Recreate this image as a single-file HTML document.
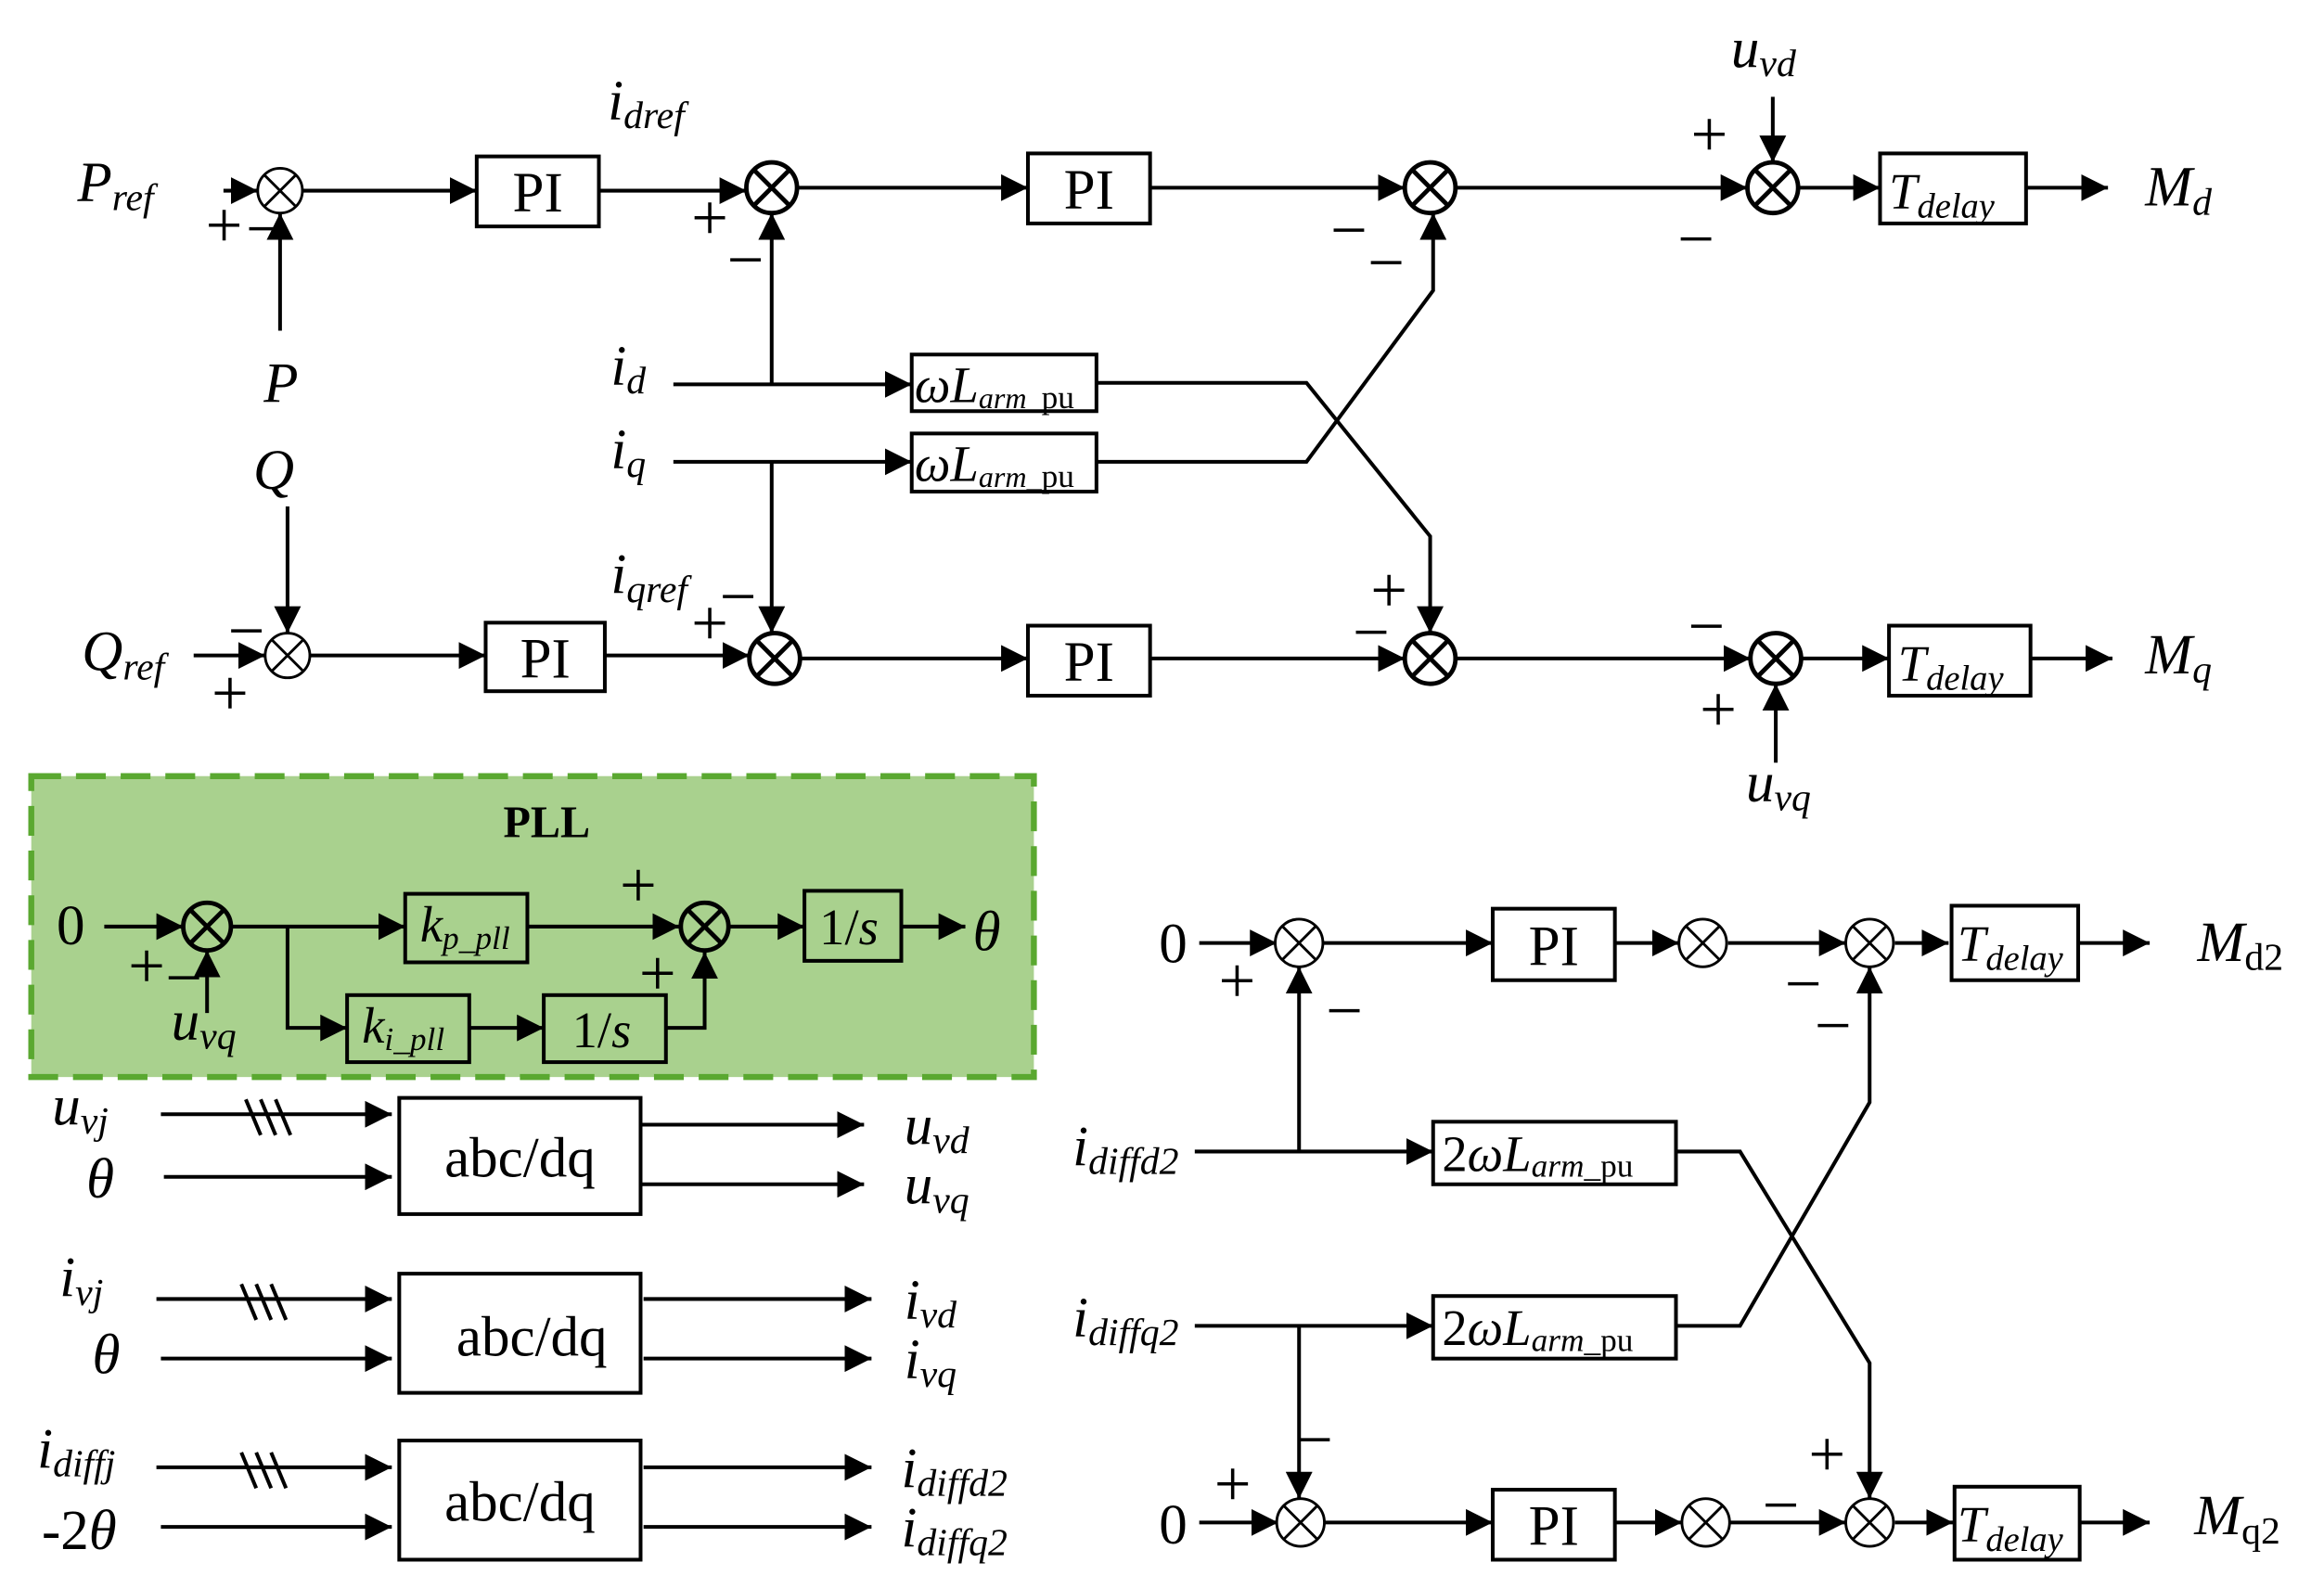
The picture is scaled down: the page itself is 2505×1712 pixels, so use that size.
<!DOCTYPE html>
<html><head><meta charset="utf-8"><style>
html,body{margin:0;padding:0;background:#fff}
svg{display:block}
text{font-family:"Liberation Serif",serif;fill:#000}
.i{font-style:italic}
.n{font-style:normal}
</style></head><body>
<svg width="2505" height="1712" viewBox="0 0 1560 1066" preserveAspectRatio="none" xmlns="http://www.w3.org/2000/svg">
<defs>
<marker id="b" viewBox="0 0 10 10" refX="10" refY="5" markerWidth="18" markerHeight="18" markerUnits="userSpaceOnUse" orient="auto">
<path d="M0,0 L10,5 L0,10 z" fill="#000"/></marker>
</defs>
<g stroke="#000" stroke-width="2.5" fill="none">
<rect x="21" y="521" width="673" height="202" fill="#a9d18e" stroke="#5aa830" stroke-width="4" stroke-dasharray="20,10"/>
</g>
<g stroke="#000" stroke-width="2.5" fill="none" marker-end="url(#b)">
<path d="M150,128 H173"/><path d="M188,222 V143"/><path d="M203,128 H320"/><path d="M402,128 H501"/>
<path d="M535,126 H690"/><path d="M772,126 H943"/><path d="M977,126 H1173"/><path d="M1190,65 V109"/>
<path d="M1207,126 H1262"/><path d="M1360,126 H1415"/>
<path d="M452,258 H612"/><path d="M518,258 V143"/><path d="M452,310 H612"/><path d="M518,310 V425"/>
<path d="M736,257 H877 L960,360 V425"/><path d="M736,310 H877 L962,195 V143"/>
<path d="M193,340 V425"/><path d="M130,440 H178"/><path d="M208,440 H326"/><path d="M406,440 H503"/>
<path d="M537,442 H690"/><path d="M772,442 H943"/><path d="M977,442 H1175"/><path d="M1192,512 V459"/>
<path d="M1209,442 H1268"/><path d="M1363,442 H1418"/>
<path d="M70,622 H123"/><path d="M139,680 V638"/><path d="M155,622 H272"/><path d="M354,622 H456"/>
<path d="M193,622 V690 H233"/><path d="M315,690 H365"/><path d="M447,690 H473 V639"/>
<path d="M490,622 H540"/><path d="M605,622 H648"/>
<path d="M108,748 H263"/><path d="M110,790 H263"/><path d="M430,755 H580"/><path d="M430,795 H580"/>
<path d="M105,872 H263"/><path d="M108,912 H263"/><path d="M432,872 H585"/><path d="M432,912 H585"/>
<path d="M105,985 H263"/><path d="M108,1025 H263"/><path d="M432,985 H585"/><path d="M432,1025 H585"/>
<path d="M805,633 H857"/><path d="M888,633 H1002"/><path d="M1084,633 H1127"/><path d="M1160,633 H1239"/>
<path d="M1272,633 H1308"/><path d="M1395,633 H1443"/>
<path d="M802,773 H962"/><path d="M872,773 V649"/><path d="M802,890 H962"/><path d="M872,890 V1006"/>
<path d="M1125,773 H1168 L1255,915 V1006"/><path d="M1125,890 H1168 L1255,740 V649"/>
<path d="M805,1022 H858"/><path d="M889,1022 H1002"/><path d="M1084,1022 H1129"/><path d="M1161,1022 H1239"/>
<path d="M1272,1022 H1311"/><path d="M1396,1022 H1443"/>
</g>
<g stroke="#000" stroke-width="2.5" fill="#fff">
<rect x="320" y="105" width="82" height="47"/><rect x="690" y="103" width="82" height="47"/>
<rect x="1262" y="103" width="98" height="47"/>
<rect x="612" y="238" width="124" height="38"/><rect x="612" y="291" width="124" height="39"/>
<rect x="326" y="418" width="80" height="46"/><rect x="690" y="420" width="82" height="47"/>
<rect x="1268" y="420" width="95" height="47"/>
<rect x="268" y="737" width="162" height="78"/><rect x="268" y="855" width="162" height="80"/><rect x="268" y="967" width="162" height="80"/>
<rect x="1002" y="610" width="82" height="48"/><rect x="1310" y="608" width="85" height="50"/>
<rect x="962" y="753" width="163" height="42"/><rect x="962" y="870" width="163" height="42"/>
<rect x="1002" y="1000" width="82" height="47"/><rect x="1312" y="998" width="84" height="49"/>
</g>
<g stroke="#000" stroke-width="2.5" fill="none">
<rect x="272" y="600" width="82" height="46"/><rect x="233" y="668" width="82" height="45"/>
<rect x="365" y="668" width="82" height="45"/><rect x="540" y="598" width="65" height="47"/>
<path d="M165,738 l10,24 M175,738 l10,24 M185,738 l10,24"/>
<path d="M162,862 l10,24 M172,862 l10,24 M182,862 l10,24"/>
<path d="M162,975 l10,24 M172,975 l10,24 M182,975 l10,24"/>
</g>
<g stroke="#000" fill="#fff">
<g stroke-width="1.8">
<circle cx="188" cy="128" r="15"/><path d="M177.4,117.4 l21.2,21.2 M198.6,117.4 l-21.2,21.2"/>
<circle cx="193" cy="440" r="15"/><path d="M182.4,429.4 l21.2,21.2 M203.6,429.4 l-21.2,21.2"/>
<circle cx="872" cy="633" r="16"/><path d="M860.7,621.7 l22.6,22.6 M883.3,621.7 l-22.6,22.6"/>
<circle cx="1143" cy="633" r="16"/><path d="M1131.7,621.7 l22.6,22.6 M1154.3,621.7 l-22.6,22.6"/>
<circle cx="1255" cy="633" r="16"/><path d="M1243.7,621.7 l22.6,22.6 M1266.3,621.7 l-22.6,22.6"/>
<circle cx="873" cy="1022" r="16"/><path d="M861.7,1010.7 l22.6,22.6 M884.3,1010.7 l-22.6,22.6"/>
<circle cx="1145" cy="1022" r="16"/><path d="M1133.7,1010.7 l22.6,22.6 M1156.3,1010.7 l-22.6,22.6"/>
<circle cx="1255" cy="1022" r="16"/><path d="M1243.7,1010.7 l22.6,22.6 M1266.3,1010.7 l-22.6,22.6"/>
</g>
<g stroke-width="3">
<circle cx="518" cy="126" r="17"/><path d="M506,114 l24,24 M530,114 l-24,24"/>
<circle cx="960" cy="126" r="17"/><path d="M948,114 l24,24 M972,114 l-24,24"/>
<circle cx="1190" cy="126" r="17"/><path d="M1178,114 l24,24 M1202,114 l-24,24"/>
<circle cx="520" cy="442" r="17"/><path d="M508,430 l24,24 M532,430 l-24,24"/>
<circle cx="960" cy="442" r="17"/><path d="M948,430 l24,24 M972,430 l-24,24"/>
<circle cx="1192" cy="442" r="17"/><path d="M1180,430 l24,24 M1204,430 l-24,24"/>
<circle cx="139" cy="622" r="16" fill="none"/><path d="M128,611 l22,22 M150,611 l-22,22"/>
<circle cx="473" cy="622" r="16" fill="none"/><path d="M462,611 l22,22 M484,611 l-22,22"/>
</g>
</g>
<g font-size="38" text-anchor="middle">
<text x="361" y="142">PI</text><text x="731" y="140">PI</text><text x="366" y="455">PI</text><text x="731" y="457">PI</text>
<text x="1043" y="648">PI</text><text x="1043" y="1037">PI</text>
<text x="349" y="790">abc/dq</text><text x="357" y="910">abc/dq</text><text x="349" y="1021">abc/dq</text>
</g>
<g font-size="34">
<text x="1268" y="140" class="i">T<tspan font-size="24" dy="6">delay</tspan></text>
<text x="1274" y="457" class="i">T<tspan font-size="24" dy="6">delay</tspan></text>
<text x="1314" y="645" class="i">T<tspan font-size="24" dy="6">delay</tspan></text>
<text x="1314" y="1035" class="i">T<tspan font-size="24" dy="6">delay</tspan></text>
<text x="614" y="270" class="i">ωL<tspan font-size="20" dy="4">arm_</tspan><tspan font-style="normal" font-size="22">pu</tspan></text>
<text x="614" y="323" class="i">ωL<tspan font-size="20" dy="4">arm_</tspan><tspan font-style="normal" font-size="22">pu</tspan></text>
<text x="968" y="786">2<tspan class="i">ωL</tspan><tspan class="i" font-size="22" dy="4">arm_</tspan><tspan font-size="22">pu</tspan></text>
<text x="968" y="903">2<tspan class="i">ωL</tspan><tspan class="i" font-size="22" dy="4">arm_</tspan><tspan font-size="22">pu</tspan></text>
<text x="282" y="632" class="i">k<tspan font-size="22" dy="5">p_pll</tspan></text>
<text x="243" y="700" class="i">k<tspan font-size="22" dy="5">i_pll</tspan></text>
<text x="384" y="703">1/<tspan class="i">s</tspan></text>
<text x="550" y="634">1/<tspan class="i">s</tspan></text>
<text x="367" y="562" font-weight="bold" font-size="30" text-anchor="middle">PLL</text>
</g>
<g font-size="38">
<text x="52" y="135" class="i">P<tspan font-size="26" dy="6">ref</tspan></text>
<text x="177" y="270" class="i">P</text><text x="170" y="328" class="i">Q</text>
<text x="55" y="450" class="i">Q<tspan font-size="26" dy="6">ref</tspan></text>
<text x="408" y="80" class="i">i<tspan font-size="26" dy="6">dref</tspan></text>
<text x="410" y="398" class="i">i<tspan font-size="26" dy="6">qref</tspan></text>
<text x="410" y="258" class="i">i<tspan font-size="26" dy="6">d</tspan></text>
<text x="410" y="314" class="i">i<tspan font-size="26" dy="6">q</tspan></text>
<text x="1162" y="45" class="i">u<tspan font-size="26" dy="6">vd</tspan></text>
<text x="1172" y="538" class="i">u<tspan font-size="26" dy="6">vq</tspan></text>
<text x="1440" y="138" class="i">M<tspan font-size="26" dy="6">d</tspan></text>
<text x="1440" y="452" class="i">M<tspan font-size="26" dy="6">q</tspan></text>
<text x="38" y="634">0</text><text x="653" y="638" class="i">θ</text>
<text x="115" y="698" class="i">u<tspan font-size="26" dy="6">vq</tspan></text>
<text x="35" y="755" class="i">u<tspan font-size="26" dy="6">vj</tspan></text>
<text x="58" y="804" class="i">θ</text>
<text x="40" y="870" class="i">i<tspan font-size="26" dy="6">vj</tspan></text>
<text x="62" y="922" class="i">θ</text>
<text x="25" y="985" class="i">i<tspan font-size="26" dy="6">diffj</tspan></text>
<text x="28" y="1040">-2<tspan class="i">θ</tspan></text>
<text x="607" y="768" class="i">u<tspan font-size="26" dy="6">vd</tspan></text>
<text x="607" y="808" class="i">u<tspan font-size="26" dy="6">vq</tspan></text>
<text x="607" y="885" class="i">i<tspan font-size="26" dy="6">vd</tspan></text>
<text x="607" y="925" class="i">i<tspan font-size="26" dy="6">vq</tspan></text>
<text x="605" y="998" class="i">i<tspan font-size="26" dy="6">diffd2</tspan></text>
<text x="605" y="1038" class="i">i<tspan font-size="26" dy="6">diffq2</tspan></text>
<text x="778" y="646">0</text><text x="778" y="1036">0</text>
<text x="720" y="782" class="i">i<tspan font-size="26" dy="6">diffd2</tspan></text>
<text x="720" y="897" class="i">i<tspan font-size="26" dy="6">diffq2</tspan></text>
<text x="1475" y="645" class="i">M<tspan font-size="26" dy="6" font-style="normal">d2</tspan></text>
<text x="1473" y="1030" class="i">M<tspan font-size="26" dy="6" font-style="normal">q2</tspan></text>
</g>
<g font-size="44" font-family="Liberation Sans">
<text x="138" y="166">+</text><text x="165" y="168">−</text>
<text x="464" y="161">+</text><text x="488" y="189">−</text>
<text x="893" y="169">−</text><text x="918" y="191">−</text>
<text x="1135" y="105">+</text><text x="1126" y="175">−</text>
<text x="153" y="438">−</text><text x="142" y="480">+</text>
<text x="464" y="433">+</text><text x="483" y="415">−</text>
<text x="920" y="411">+</text><text x="908" y="439">−</text>
<text x="1133" y="435">−</text><text x="1141" y="491">+</text>
<text x="86" y="663">+</text><text x="111" y="671">−</text>
<text x="416" y="609">+</text><text x="429" y="668">+</text>
<text x="818" y="673">+</text><text x="890" y="693">−</text>
<text x="1198" y="675">−</text><text x="1218" y="703">−</text>
<text x="815" y="1011">+</text><text x="870" y="981">−</text>
<text x="1214" y="991">+</text><text x="1183" y="1025">−</text>
</g>
</svg>
</body></html>
